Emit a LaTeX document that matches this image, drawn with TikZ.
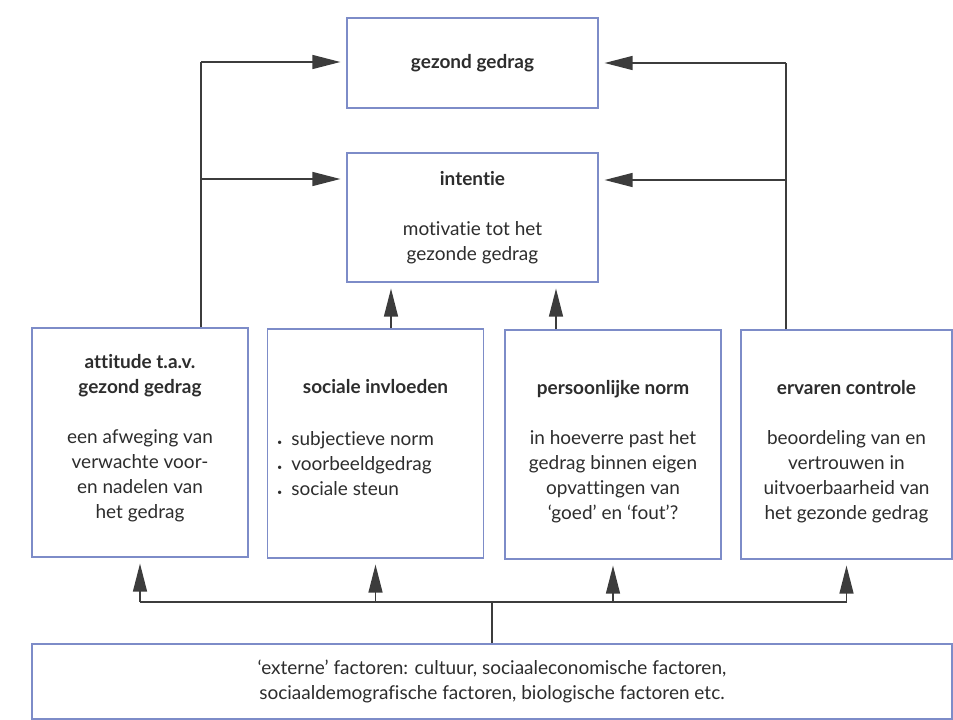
\documentclass[tikz,border=0pt]{standalone}
\usepackage{fontspec}
\setmainfont[Ligatures=NoCommon]{Lato}
\usetikzlibrary{arrows.meta,positioning}
\definecolor{boxblue}{RGB}{125,140,200}
\definecolor{linegrey}{RGB}{60,60,60}
\definecolor{textgrey}{RGB}{45,45,45}
\tikzset{
  box/.style={draw=boxblue,line width=1.2pt,fill=white,inner sep=0pt,
    minimum width=216pt,minimum height=229pt},
  boxtext/.style={align=center,text=textgrey,inner sep=0pt,
    font=\fontsize{19}{25}\selectfont},
  lijn/.style={linegrey,line width=1.3pt},
  pijl/.style={lijn,-{Triangle[length=28pt,width=14pt]},shorten >=6pt}
}

\begin{document}
\begin{tikzpicture}[x=1pt,y=-1pt]
	\useasboundingbox (0,0) rectangle (953,720);
	% bovenste twee blokken
	\node[box,boxtext,minimum width=251pt,minimum height=90pt] (gedrag) at (472.5,63) {\textbf{gezond gedrag}};
	\node[box,boxtext,minimum width=251pt,minimum height=129pt] (intentie) at (472.5,217.5)
		{\textbf{intentie}\\[25pt]motivatie tot het\\gezonde gedrag};
	% vier determinanten
	\node[box] (att)  at (140,442.5) {};
	\node[box] (soc)  at (375.5,443.5) {};
	\node[box] (pers) at (613,444.5) {};
	\node[box,minimum width=211pt] (erv) at (846.5,444.5) {};
	\node[boxtext,below=27pt of att.north] (attT)
		{\textbf{attitude t.a.v.}\\\textbf{gezond gedrag}\\[25pt]een afweging van\\verwachte voor-\\en nadelen van\\het gedrag};
	\node[boxtext,below=51pt of soc.north] (socT) {\textbf{sociale invloeden}};
	\node[boxtext,align=left,below right=103pt and 10pt of soc.north west] (socL)
		{{\small\textbullet}\hspace{9pt}subjectieve norm\\{\small\textbullet}\hspace{9pt}voorbeeldgedrag\\{\small\textbullet}\hspace{9pt}sociale steun};
	\node[boxtext,below=51pt of pers.north] (persT)
		{\textbf{persoonlijke norm}\\[25pt]in hoeverre past het\\gedrag binnen eigen\\opvattingen van\\‘goed’ en ‘fout’?};
	\node[boxtext,below=51pt of erv.north] (ervT)
		{\textbf{ervaren controle}\\[25pt]beoordeling van en\\vertrouwen in\\uitvoerbaarheid van\\het gezonde gedrag};
	% externe factoren
	\node[box,boxtext,minimum width=920pt,minimum height=75pt] (ext) at (492,681.5)
		{‘externe’ factoren: cultuur, sociaaleconomische factoren,\\sociaaldemografische factoren, biologische factoren etc.};
	\coordinate (l1) at (201,62);
	\coordinate (l2) at (201,179);
	\coordinate (r1) at (786,63);
	\coordinate (r2) at (786,180);
	\coordinate (v) at (492,602);
	\draw[lijn] (att.north -| l1) -- (l1);
	\draw[pijl] (l1) -- (gedrag.west |- l1);
	\draw[pijl] (l2) -- (intentie.west |- l2);
	\draw[lijn] (erv.north -| r1) -- (r1);
	\draw[pijl] (r1) -- (gedrag.east |- r1);
	\draw[pijl] (r2) -- (intentie.east |- r2);
	\draw[pijl] (soc.north -| 391,0) -- (intentie.south -| 391,0);
	\draw[pijl] (pers.north -| 556,0) -- (intentie.south -| 556,0);
	\draw[lijn] (ext.north -| v) -- (v);
	\draw[lijn] (att.south |- v) -- (erv.south |- v);
	\foreach \b in {att,soc,pers,erv}
		\draw[pijl] (\b.south |- v) -- (\b.south);
\end{tikzpicture}
\end{document}
